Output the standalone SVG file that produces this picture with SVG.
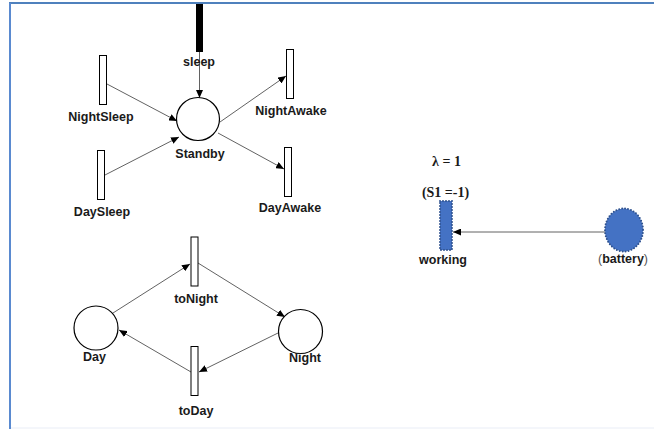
<svg xmlns="http://www.w3.org/2000/svg" width="654" height="429" viewBox="0 0 654 429">
<style>
.t{fill:#fff;stroke:#000;stroke-width:1}
.p{fill:#fff;stroke:#000;stroke-width:1.2}
.lb{font-family:"Liberation Sans",Arial,sans-serif;font-weight:bold;font-size:12.5px;fill:#1a1a1a;text-anchor:middle}
.sf{font-family:"Liberation Serif","Times New Roman",serif;font-weight:bold;font-size:14px;fill:#1a1a1a;text-anchor:middle}
.c{stroke:#3a3a3a;stroke-width:0.8;fill:none;marker-end:url(#ah)}
.bl{fill:#4472c4;stroke:#2f528f;stroke-width:2;stroke-dasharray:0 3;stroke-linecap:round}
</style>
<defs>
<marker id="ah" markerUnits="userSpaceOnUse" markerWidth="9" markerHeight="7" refX="8" refY="3.5" orient="auto">
<path d="M0,0 L8,3.5 L0,7 z" fill="#000"/>
</marker>
</defs>
<rect width="654" height="429" fill="#fff"/>
<g id="frame">
<line x1="9" y1="3" x2="654" y2="3" stroke="#4f81bd" stroke-width="2"/>
<line x1="10" y1="3" x2="10" y2="429" stroke="#5a8ad0" stroke-width="2"/>
<line x1="11" y1="428" x2="654" y2="428" stroke="#e9edf6" stroke-width="1"/>
</g>
<g id="connectors">
<line class="c" x1="199.5" y1="52" x2="199.5" y2="98"/>
<line class="c" x1="107" y1="84" x2="177" y2="121"/>
<line class="c" x1="105" y1="175" x2="179" y2="137"/>
<line class="c" x1="220" y1="122" x2="286" y2="76"/>
<line class="c" x1="218" y1="133" x2="284" y2="169"/>
<line class="c" x1="113" y1="313" x2="190" y2="264"/>
<line class="c" x1="198" y1="263" x2="285" y2="317"/>
<line class="c" x1="278" y1="333" x2="199" y2="372"/>
<line class="c" x1="191" y1="372" x2="119" y2="330"/>
<line class="c" x1="605" y1="232" x2="453" y2="232"/>
</g>
<g id="sleep"><rect x="196" y="4" width="7" height="48" fill="#000"/><text class="lb" x="199" y="66">sleep</text></g>
<g id="Standby"><circle class="p" cx="198" cy="119" r="21.5"/><text class="lb" x="200" y="158">Standby</text></g>
<g id="NightSleep"><rect class="t" x="99.5" y="55.5" width="7" height="49"/><text class="lb" x="101" y="121">NightSleep</text></g>
<g id="DaySleep"><rect class="t" x="97.5" y="150.5" width="7" height="49"/><text class="lb" x="102" y="216">DaySleep</text></g>
<g id="NightAwake"><rect class="t" x="286.5" y="49.5" width="7" height="49"/><text class="lb" x="291" y="115">NightAwake</text></g>
<g id="DayAwake"><rect class="t" x="284.5" y="147.5" width="7" height="49"/><text class="lb" x="290" y="212">DayAwake</text></g>
<g id="toNight"><rect class="t" x="191" y="237" width="7" height="49"/><text class="lb" x="196" y="303">toNight</text></g>
<g id="toDay"><rect class="t" x="191" y="346.5" width="7" height="49"/><text class="lb" x="196" y="415">toDay</text></g>
<g id="Day"><circle class="p" cx="96" cy="328" r="22"/><text class="lb" x="94.5" y="361">Day</text></g>
<g id="Night"><circle class="p" cx="300.5" cy="331.5" r="22"/><text class="lb" x="305" y="362">Night</text></g>
<g id="working"><rect class="bl" x="440" y="201" width="12" height="49"/><text class="lb" x="443" y="264">working</text><text class="sf" x="446.5" y="166">λ = 1</text><text class="sf" x="445.5" y="197">(S1 =-1)</text></g>
<g id="battery"><ellipse class="bl" cx="624" cy="230" rx="19" ry="21.5"/><text class="lb" x="623" y="263"><tspan font-weight="normal" fill="#555">(</tspan>battery<tspan font-weight="normal" fill="#555">)</tspan></text></g>
</svg>
